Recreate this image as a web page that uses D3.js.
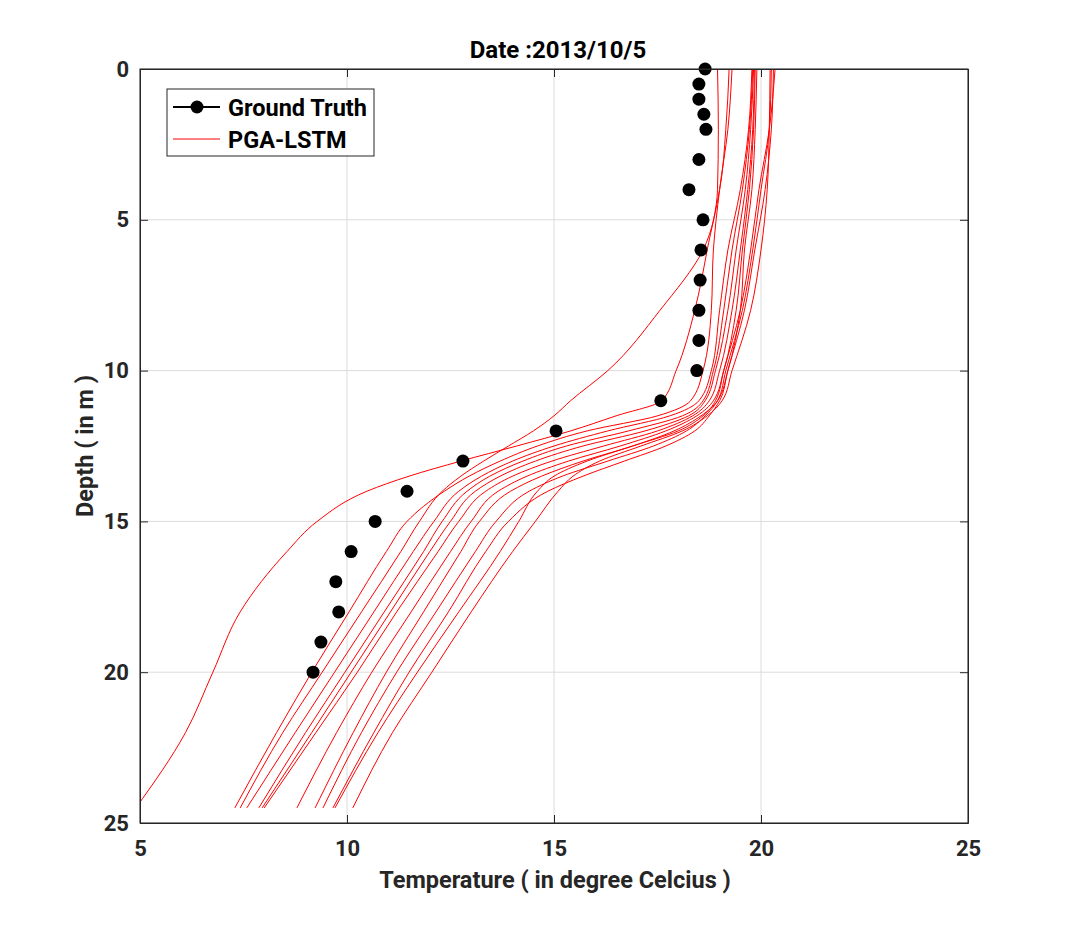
<!DOCTYPE html>
<html><head><meta charset="utf-8">
<script src="https://cdn.jsdelivr.net/npm/d3@7"></script>
<style>body{margin:0;background:#fff}svg text{font-family:Roboto,"DejaVu Sans",sans-serif;font-weight:bold}</style>
</head><body><svg id="c" width="1072" height="926"></svg>
<script>
const title = "Date :2013/10/5";
const xTicks = [5,10,15,20,25];
const yTicks = [0,5,10,15,20,25];
const gtDepth = [0,0.5,1,1.5,2,3,4,5,6,7,8,9,10,11,12,13,14,15,16,17,18,19,20];
const gtTemp  = [18.65,18.5,18.5,18.62,18.67,18.5,18.26,18.6,18.55,18.53,18.5,18.5,18.45,17.58,15.05,12.8,11.45,10.68,10.1,9.73,9.8,9.37,9.18];
const predDepth = [0,2,4,6,8,10,11,11.5,12,12.5,13,13.5,14,15,16,18,20,22,24.5];
const predA = [18.95,18.97,18.95,18.7,18.4,17.95,17.6,16.5,15.4,14.1,12.75,11.5,10.48,9.28,8.55,7.42,6.76,6.1,4.9];
const predB = [19.23,19.15,19.0,18.6,17.56,16.3,15.4,15.0,14.5,13.9,13.3,12.75,12.3,11.75,11.3,10.35,9.4,8.45,7.42];
const predC = [19.3,19.2,19.0,18.85,18.8,18.6,18.3,17.5,15.8,14.6,13.7,12.95,12.35,11.45,10.95,10.05,9.15,8.3,7.29];
const predD = [19.78,19.7,19.5,19.2,19.0,18.8,18.5,17.8,16.3,15.0,14.0,13.25,12.7,12.1,11.6,10.65,9.7,8.75,7.58];
const predE = [19.8,19.72,19.55,19.3,19.1,18.85,18.6,18.1,16.8,15.3,14.25,13.45,12.9,12.3,11.85,10.9,9.95,9.0,7.87];
const predF = [19.82,19.75,19.62,19.4,19.2,18.9,18.65,18.25,17.2,15.7,14.55,13.7,13.1,12.5,12.0,11.05,10.1,9.15,7.95];
const predG = [19.84,19.8,19.68,19.5,19.3,19.0,18.75,18.35,17.5,16.2,14.95,14.0,13.35,12.7,12.2,11.2,10.25,9.25,8.0];
const predH = [19.86,19.82,19.72,19.55,19.4,19.1,18.85,18.45,17.7,16.6,15.35,14.35,13.65,13.0,12.5,11.55,10.6,9.75,8.79];
const predI = [19.9,19.86,19.78,19.6,19.5,19.2,18.95,18.55,17.9,16.9,15.7,14.7,13.95,13.2,12.75,11.85,10.95,10.15,9.23];
const predJ = [20.22,20.2,20.15,20.0,19.75,19.3,19.06,18.7,18.1,17.1,16.1,15.46,15.1,14.55,14.0,13.0,12.05,11.1,10.14];
const predK = [20.25,20.2,20.0,19.8,19.55,19.15,18.95,18.65,18.2,17.4,16.3,15.2,14.4,13.6,13.1,12.15,11.2,10.35,9.42];
const predL = [20.3,20.25,20.1,19.85,19.6,19.2,19.0,18.75,18.4,17.7,16.7,15.7,14.85,13.9,13.35,12.45,11.5,10.65,9.66];
const predM = [20.34,20.2,19.95,19.75,19.5,19.1,18.9,18.6,18.0,16.9,15.8,15.0,14.6,14.15,13.7,12.7,11.7,10.75,9.71];
const preds = [predA,predB,predC,predD,predE,predF,predG,predH,predI,predJ,predK,predL,predM];

const svg = d3.select("#c");
const L=140,R=968,T=69,B=823;
const x = d3.scaleLinear().domain([5,25]).range([L,R]);
const y = d3.scaleLinear().domain([0,25]).range([T,B]);

const g = svg.append("g");
g.selectAll(".gx").data(xTicks).join("line").attr("x1",d=>x(d)).attr("x2",d=>x(d)).attr("y1",T).attr("y2",B).attr("stroke","#dcdcdc");
g.selectAll(".gy").data(yTicks).join("line").attr("y1",d=>y(d)).attr("y2",d=>y(d)).attr("x1",L).attr("x2",R).attr("stroke","#dcdcdc");

svg.append("clipPath").attr("id","clip").append("rect").attr("x",L).attr("y",T).attr("width",R-L).attr("height",B-T);

const line = d3.line().x(d=>x(d[1])).y(d=>y(d[0])).curve(d3.curveMonotoneY);
svg.append("g").attr("clip-path","url(#clip)").selectAll("path").data(preds).join("path")
  .attr("d",p=>line(predDepth.map((d,i)=>[d,p[i]]))).attr("fill","none").attr("stroke","#ff0000").attr("stroke-width",1);

svg.append("g").selectAll("circle").data(gtDepth).join("circle")
  .attr("cx",(d,i)=>x(gtTemp[i])).attr("cy",d=>y(d)).attr("r",6.5).attr("fill","#000");

const ax = svg.append("g");
ax.append("g").attr("transform",`translate(0,${B})`).call(d3.axisBottom(x).tickValues(xTicks).tickSizeInner(-8).tickSizeOuter(0).tickPadding(17));
ax.append("g").attr("transform",`translate(0,${T})`).call(d3.axisTop(x).tickValues(xTicks).tickSizeInner(-8).tickSizeOuter(0).tickFormat(""));
ax.append("g").attr("transform",`translate(${L},0)`).call(d3.axisLeft(y).tickValues(yTicks).tickSizeInner(-8).tickSizeOuter(0).tickPadding(11));
ax.append("g").attr("transform",`translate(${R},0)`).call(d3.axisRight(y).tickValues(yTicks).tickSizeInner(-8).tickSizeOuter(0).tickFormat(""));
ax.selectAll("path.domain").attr("stroke","#262626");
ax.selectAll(".tick line").attr("stroke","#262626");
ax.selectAll("text").attr("fill","#262626").attr("font-family","Roboto").attr("font-weight","bold").attr("font-size",22);
svg.append("rect").attr("x",L).attr("y",T).attr("width",R-L).attr("height",B-T).attr("fill","none").attr("stroke","#262626");

svg.append("text").attr("x",558).attr("y",58).attr("text-anchor","middle").attr("font-size",24).text(title);
svg.append("text").attr("x",555).attr("y",888).attr("text-anchor","middle").attr("font-size",23.5).attr("fill","#262626").text("Temperature ( in degree Celcius )");
svg.append("text").attr("transform","translate(93,446) rotate(-90)").attr("text-anchor","middle").attr("font-size",23.5).attr("fill","#262626").text("Depth ( in m )");

const lg = svg.append("g");
lg.append("rect").attr("x",167).attr("y",89).attr("width",207).attr("height",67).attr("fill","#fff").attr("stroke","#262626");
lg.append("line").attr("x1",173).attr("x2",220).attr("y1",107).attr("y2",107).attr("stroke","#000").attr("stroke-width",2);
lg.append("circle").attr("cx",197).attr("cy",107).attr("r",6.5).attr("fill","#000");
lg.append("line").attr("x1",173).attr("x2",220).attr("y1",139).attr("y2",139).attr("stroke","#ff0000").attr("stroke-width",1);
lg.append("text").attr("x",228).attr("y",116).attr("font-size",23.5).text("Ground Truth");
lg.append("text").attr("x",228).attr("y",148).attr("font-size",23.5).text("PGA-LSTM");
</script></body></html>
